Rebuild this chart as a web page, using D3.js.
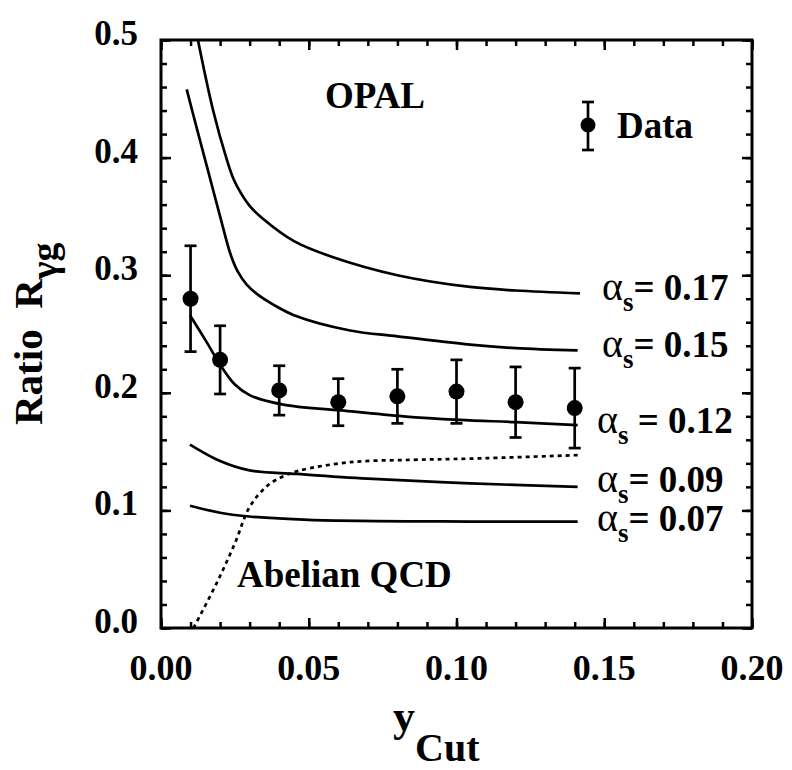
<!DOCTYPE html>
<html>
<head>
<meta charset="utf-8">
<script src="https://cdn.jsdelivr.net/npm/d3@7"></script>
<style>
  body { margin: 0; background: #fff; }
  svg { display: block; }
  .axis .domain { display: none; }
  .axis line { stroke: #000; stroke-width: 2.5; }
  .curve { fill: none; stroke: #000; stroke-width: 2.7; }
</style>
</head>
<body>
<div id="chart"></div>
<script>
const FONT = 'Liberation Serif';

// measured points (y_cut, ratio, +/- error)
const yCut = [0.01, 0.02, 0.04, 0.06, 0.08, 0.10, 0.12, 0.14];
const ratio = [0.280, 0.228, 0.202, 0.192, 0.197, 0.201, 0.192, 0.187];
const ratioErr = [0.045, 0.029, 0.021, 0.020, 0.023, 0.027, 0.030, 0.034];

// QCD predictions
const curveA017 = [[0.0125, 0.50], [0.0176, 0.4405], [0.0223, 0.398], [0.0245, 0.382], [0.027, 0.370],
  [0.030, 0.359], [0.0345, 0.348], [0.045, 0.329], [0.058, 0.3155], [0.08, 0.300], [0.1046, 0.290],
  [0.12, 0.287], [0.1418, 0.2846]];
const curveA015 = [[0.0087, 0.458], [0.0121, 0.425], [0.016, 0.388], [0.020, 0.350], [0.0235, 0.318],
  [0.026, 0.303], [0.029, 0.292], [0.033, 0.283], [0.038, 0.275], [0.045, 0.266], [0.064, 0.253],
  [0.08, 0.248], [0.1046, 0.241], [0.12, 0.238], [0.141, 0.236]];
const curveA012 = [[0.0098, 0.266], [0.015, 0.245], [0.0205, 0.222], [0.025, 0.207], [0.030, 0.198],
  [0.0413, 0.190], [0.061, 0.185], [0.082, 0.180], [0.101, 0.177], [0.120, 0.175], [0.141, 0.1725]];
const curveA009 = [[0.0098, 0.156], [0.02, 0.142], [0.03, 0.134], [0.046, 0.131], [0.07, 0.127],
  [0.1046, 0.123], [0.141, 0.120]];
const curveA007 = [[0.0098, 0.104], [0.02, 0.098], [0.029, 0.095], [0.05, 0.092], [0.1046, 0.0905],
  [0.141, 0.0904]];
const abelian = [[0.011, 0.0], [0.0188, 0.038], [0.025, 0.072], [0.030, 0.103], [0.036, 0.121],
  [0.0414, 0.129], [0.047, 0.134], [0.064, 0.141], [0.085, 0.143], [0.1046, 0.144], [0.141, 0.147]];

const xMajor = [0, 0.05, 0.10, 0.15, 0.20];
const xMinor = d3.range(0, 21).map(i => i / 100);
const yMajor = [0, 0.1, 0.2, 0.3, 0.4, 0.5];
const yMinor = d3.range(0, 26).map(i => i / 50);

const alphaLabels = ['= 0.17', '= 0.15', ' = 0.12', '= 0.09', '= 0.07'];

const W = 792, H = 770;
const margin = { top: 40, right: 40, bottom: 142, left: 161 };
const width = W - margin.left - margin.right;
const height = H - margin.top - margin.bottom;

const x = d3.scaleLinear().domain([0, 0.20]).range([0, width]);
const y = d3.scaleLinear().domain([0, 0.5]).range([height, 0]);

const svg = d3.select('#chart').append('svg')
  .attr('width', W)
  .attr('height', H);

const plot = svg.append('g')
  .attr('transform', `translate(${margin.left},${margin.top})`);

// clip so the steep curves stop at the frame
svg.append('defs').append('clipPath').attr('id', 'clip')
  .append('rect').attr('width', width).attr('height', height);

// every text goes through here so the font is set when it is created
function label(parent, str, size) {
  return parent.append('text')
    .attr('font-family', FONT)
    .attr('font-weight', 'bold')
    .attr('font-size', size)
    .text(str);
}

/* AXES: ticks point inward on all four sides, labels drawn by hand */
const noLabel = () => '';
const axisDefs = [
  [d3.axisBottom(x), xMinor, 6, `translate(0,${height})`],
  [d3.axisBottom(x), xMajor, 10, `translate(0,${height})`],
  [d3.axisTop(x), xMinor, 6, null],
  [d3.axisTop(x), xMajor, 10, null],
  [d3.axisLeft(y), yMinor, 6, null],
  [d3.axisLeft(y), yMajor, 10, null],
  [d3.axisRight(y), yMinor, 6, `translate(${width},0)`],
  [d3.axisRight(y), yMajor, 10, `translate(${width},0)`]
];
axisDefs.forEach(([ax, vals, len, tr]) => {
  plot.append('g').attr('class', 'axis').attr('transform', tr)
    .call(ax.tickValues(vals).tickSize(-len).tickFormat(noLabel));
});

const fx = d3.format('.2f'), fy = d3.format('.1f');
xMajor.forEach(v => {
  label(plot, fx(v), 36).attr('x', x(v)).attr('y', height + 52).attr('text-anchor', 'middle');
});
yMajor.forEach(v => {
  label(plot, fy(v), 35).attr('x', -23).attr('y', y(v) + 5).attr('text-anchor', 'end');
});

plot.append('rect')
  .attr('width', width).attr('height', height)
  .attr('fill', 'none').attr('stroke', '#000').attr('stroke-width', 3);

/* CURVES */
const line = d3.line()
  .x(d => x(d[0]))
  .y(d => y(d[1]))
  .curve(d3.curveCatmullRom.alpha(0.5));

const curvesG = plot.append('g').attr('clip-path', 'url(#clip)');
curvesG.selectAll('.curve')
  .data([curveA017, curveA015, curveA012, curveA009, curveA007])
  .join('path')
  .attr('class', 'curve')
  .attr('d', line);

curvesG.append('path')
  .datum(abelian)
  .attr('class', 'curve')
  .attr('stroke-width', 2.2)
  .attr('stroke-dasharray', '4,4')
  .attr('d', line);

/* DATA POINTS */
const pts = yCut.map((d, i) => ({ x: d, y: ratio[i], e: ratioErr[i] }));
const cap = 6;
const ptG = plot.append('g').selectAll('g.pt')
  .data(pts)
  .join('g')
  .attr('class', 'pt');

ptG.append('line')
  .attr('x1', d => x(d.x)).attr('x2', d => x(d.x))
  .attr('y1', d => y(d.y + d.e)).attr('y2', d => y(d.y - d.e))
  .attr('stroke', '#000').attr('stroke-width', 2.7);
ptG.selectAll('line.cap')
  .data(d => [d.y + d.e, d.y - d.e].map(v => ({ x: d.x, v })))
  .join('line')
  .attr('class', 'cap')
  .attr('x1', d => x(d.x) - cap).attr('x2', d => x(d.x) + cap)
  .attr('y1', d => y(d.v)).attr('y2', d => y(d.v))
  .attr('stroke', '#000').attr('stroke-width', 2.7);
ptG.append('circle')
  .attr('cx', d => x(d.x)).attr('cy', d => y(d.y))
  .attr('r', 8).attr('fill', '#000');

/* LEGEND */
const leg = plot.append('g').attr('transform', `translate(${588 - margin.left},${125 - margin.top})`);
leg.append('line').attr('y1', -23).attr('y2', 25).attr('stroke', '#000').attr('stroke-width', 2.7);
leg.selectAll('line.cap').data([-23, 25]).join('line').attr('class', 'cap')
  .attr('x1', -cap).attr('x2', cap).attr('y1', d => d).attr('y2', d => d)
  .attr('stroke', '#000').attr('stroke-width', 2.7);
leg.append('circle').attr('r', 7.5).attr('fill', '#000');
label(leg, 'Data', 37).attr('x', 29).attr('y', 13);

/* ANNOTATIONS */
label(svg, 'OPAL', 37).attr('x', 325).attr('y', 108);
label(svg, 'Abelian QCD', 37).attr('x', 237).attr('y', 587);

const alphaPos = [[602, 300], [602, 357], [597, 433], [597, 492], [597, 531]];
alphaLabels.forEach((lab, i) => {
  const t = label(svg, null, 37)
    .attr('x', alphaPos[i][0]).attr('y', alphaPos[i][1])
    .attr('xml:space', 'preserve');
  t.append('tspan').attr('font-weight', 'normal').attr('font-size', 40).text('α');
  t.append('tspan').attr('dy', 11).attr('font-size', 27).text('s');
  t.append('tspan').attr('dy', -11).text(lab);
});

/* AXIS TITLES */
const xt = label(svg, null, 44).attr('x', 393).attr('y', 731);
xt.append('tspan').text('y');
xt.append('tspan').attr('dy', 30).attr('font-size', 40).text('Cut');

const yt = label(svg, null, 41)
  .attr('transform', 'translate(42,425) rotate(-90)')
  .attr('xml:space', 'preserve');
yt.append('tspan').text('Ratio  R');
yt.append('tspan').attr('dy', 15).attr('font-size', 38).text('γg');
</script>
</body>
</html>
